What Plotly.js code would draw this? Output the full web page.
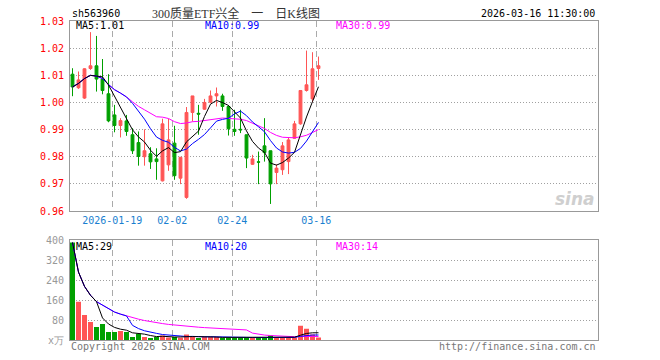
<!DOCTYPE html>
<html><head><meta charset="utf-8">
<script src="https://cdn.plot.ly/plotly-3.0.1.min.js"></script>
<style>html,body{margin:0;padding:0;background:#fff}#chart{width:660px;height:360px}</style>
</head><body><div id="chart"></div>
<script>
const dates = ['2026-01-08','2026-01-09','2026-01-12','2026-01-13','2026-01-14','2026-01-15','2026-01-16',
  '2026-01-19','2026-01-20','2026-01-21','2026-01-22','2026-01-23','2026-01-26','2026-01-27','2026-01-28',
  '2026-01-29','2026-01-30','2026-02-02','2026-02-03','2026-02-04','2026-02-05','2026-02-06','2026-02-09',
  '2026-02-10','2026-02-11','2026-02-12','2026-02-13','2026-02-24','2026-02-25','2026-02-26','2026-02-27',
  '2026-03-02','2026-03-03','2026-03-04','2026-03-05','2026-03-06','2026-03-09','2026-03-10','2026-03-11',
  '2026-03-12','2026-03-13','2026-03-16'];
const openP  = [1.0104,1.0054,1.0016,1.0125,1.0135,1.0086,1.0032,0.9954,0.9915,0.9932,0.9881,0.9852,0.9800,0.9811,
  0.9792,0.9711,0.9770,0.9850,0.9721,0.9650,0.9963,0.9960,0.9975,1.0001,1.0024,1.0024,0.9985,0.9901,0.9901,0.9881,
  0.9772,0.9781,0.9840,0.9822,0.9742,0.9752,0.9782,0.9868,0.9921,1.0044,1.0013,1.0125];
const highP  = [1.0126,1.0114,1.0126,1.0259,1.0245,1.0160,1.0104,0.9991,0.9942,0.9954,0.9905,0.9893,0.9901,0.9835,
  0.9831,0.9940,0.9940,0.9914,0.9798,0.9983,1.0024,0.9991,1.0013,1.0044,1.0055,1.0032,0.9990,0.9973,0.9973,0.9881,
  0.9807,0.9819,0.9942,0.9822,0.9772,0.9854,0.9872,0.9932,1.0044,1.0191,1.0185,1.0169];
const lowP   = [1.0023,1.0050,1.0013,1.0120,1.0040,1.0030,0.9927,0.9890,0.9871,0.9877,0.9810,0.9767,0.9767,0.9755,
  0.9715,0.9709,0.9748,0.9715,0.9699,0.9645,0.9930,0.9881,0.9973,0.9997,0.9985,0.9969,0.9878,0.9877,0.9887,0.9758,
  0.9770,0.9699,0.9782,0.9626,0.9699,0.9733,0.9736,0.9866,0.9918,1.0040,1.0001,1.0083];
const closeP = [1.0057,1.0083,1.0124,1.0135,1.0086,1.0044,0.9932,0.9915,0.9933,0.9893,0.9822,0.9801,0.9822,0.9781,
  0.9782,0.9921,0.9862,0.9730,0.9798,0.9963,1.0024,0.9957,1.0000,1.0024,1.0032,0.9985,0.9903,0.9893,0.9899,0.9795,
  0.9792,0.9780,0.9815,0.9700,0.9758,0.9840,0.9862,0.9921,1.0044,1.0065,1.0124,1.0135];
const volume = [390,153,100,72,52,64,32,32,36,32,12,25,12,8,12,18,10,12,9,22,16,8,12,12,12,9,9,9,9,9,
  9,9,9,18,10,9,9,11,57,45,22,10];
const xTickDates  = ['2026-01-19','2026-02-02','2026-02-24','2026-03-16'];
const xTickLabels = ['2026-01-19','02-02','02-24','03-16'];
const priceTicks = [0.96,0.97,0.98,0.99,1.00,1.01,1.02,1.03];
const volTicks = [0,80,160,240,320,400];
const volTickLabels = ['x万','80','160','240','320','400'];
const stockCode = 'sh563960';
const chartTitle = '300质量ETF兴全\u3000一\u3000日K线图';
const stamp = '2026-03-16 11:30:00';

const RED = '#ff5555', GREEN = '#00a000';
const MONO = 'DejaVu Sans Mono, monospace';
const W = 660, H = 360, L = 70, R = 598, T = 21, B = 340;
const px = x => (x - L) / (R - L);
const py = y => (B - y) / (B - T);

function ma(arr, n) {
  return arr.map((_, i) => {
    const s = Math.max(0, i - n + 1); let t = 0;
    for (let j = s; j <= i; j++) t += arr[j];
    return t / (i - s + 1);
  });
}
const xs = dates.map((d, i) => i);
const pm5 = ma(closeP, 5), pm10 = ma(closeP, 10), pm30 = ma(closeP, 30);
const vm5 = ma(volume, 5), vm10 = ma(volume, 10), vm30 = ma(volume, 30);
const volColors = closeP.map((c, i) => c >= openP[i] ? RED : GREEN);
const gridX = xTickDates.map(d => dates.indexOf(d) - 0.37);
const last = a => a[a.length - 1];

const traces = [
  {type: 'candlestick', x: xs, open: openP, high: highP, low: lowP, close: closeP,
   xaxis: 'x', yaxis: 'y', hoverinfo: 'skip', whiskerwidth: 0,
   increasing: {line: {color: RED, width: 1}, fillcolor: RED},
   decreasing: {line: {color: GREEN, width: 1}, fillcolor: GREEN}},
  {type: 'scatter', mode: 'lines', x: xs, y: pm30, line: {color: '#ff00ff', width: 1}, xaxis: 'x', yaxis: 'y', hoverinfo: 'skip'},
  {type: 'scatter', mode: 'lines', x: xs, y: pm10, line: {color: '#0000ff', width: 1}, xaxis: 'x', yaxis: 'y', hoverinfo: 'skip'},
  {type: 'scatter', mode: 'lines', x: xs, y: pm5, line: {color: '#000000', width: 1}, xaxis: 'x', yaxis: 'y', hoverinfo: 'skip'},
  {type: 'bar', x: xs, y: volume, width: 0.83, marker: {color: volColors, line: {width: 0}}, xaxis: 'x2', yaxis: 'y2', hoverinfo: 'skip'},
  {type: 'scatter', mode: 'lines', x: xs, y: vm30, line: {color: '#ff00ff', width: 1}, xaxis: 'x2', yaxis: 'y2', hoverinfo: 'skip'},
  {type: 'scatter', mode: 'lines', x: xs, y: vm10, line: {color: '#0000ff', width: 1}, xaxis: 'x2', yaxis: 'y2', hoverinfo: 'skip'},
  {type: 'scatter', mode: 'lines', x: xs, y: vm5, line: {color: '#000000', width: 1}, xaxis: 'x2', yaxis: 'y2', hoverinfo: 'skip'}
];

const xRange = [-(72.5 - L) / 6, (R - 72.5) / 6];
const xBase = {range: xRange, showgrid: true, gridcolor: '#aaaaaa', griddash: '6px,4px', gridwidth: 1,
  showline: true, mirror: true, linecolor: '#999999', linewidth: 1, zeroline: false, ticks: '',
  tickvals: gridX, ticktext: xTickLabels, fixedrange: true, rangeslider: {visible: false}};
const yBase = {showgrid: true, gridcolor: '#a0a0a0', griddash: '1px,2px', gridwidth: 1,
  showline: true, mirror: true, linecolor: '#999999', linewidth: 1, zeroline: false, ticks: '',
  ticklabelstandoff: 3, fixedrange: true};

const ann = (text, x, y, color, xanchor, size, extra) => Object.assign({
  text, x: px(x), y: py(y), xref: 'paper', yref: 'paper', xanchor, yanchor: 'middle',
  showarrow: false, font: {family: MONO, size: size || 10, color}}, extra || {});

const layout = {
  width: W, height: H, margin: {l: L, r: W - R, t: T, b: H - B, pad: 0},
  paper_bgcolor: '#ffffff', plot_bgcolor: '#ffffff', showlegend: false, dragmode: false,
  xaxis: Object.assign({}, xBase, {anchor: 'y', domain: [0, 1],
    tickfont: {family: MONO, size: 10, color: '#1a7fd0'}}),
  xaxis2: Object.assign({}, xBase, {anchor: 'y2', domain: [0, 1], showticklabels: false}),
  yaxis: Object.assign({}, yBase, {domain: [(B - 211) / (B - T), 1], range: [0.96, 1.03],
    tickvals: priceTicks, ticktext: priceTicks.map(v => v.toFixed(2)),
    tickfont: {family: MONO, size: 10, color: '#ff0000'}}),
  yaxis2: Object.assign({}, yBase, {domain: [0, (B - 240) / (B - T)], range: [0, 400],
    tickvals: volTicks, ticktext: volTickLabels,
    tickfont: {family: MONO, size: 10, color: '#999999'}}),
  boxgap: 0.33,
  annotations: [
    ann(stockCode, 70, 13, '#000000', 'left', 10),
    Object.assign(ann(chartTitle, 150, 13, '#333333', 'left', 12),
      {font: {family: 'Liberation Serif, Noto Sans CJK SC, serif', size: 12, color: '#333333'}}),
    ann(stamp, 597, 13, '#000000', 'right', 10),
    ann('MA5:' + last(pm5).toFixed(2), 74, 26, '#000000', 'left', 10),
    ann('MA10:' + last(pm10).toFixed(2), 203, 26, '#0000ff', 'left', 10),
    ann('MA30:' + last(pm30).toFixed(2), 334, 26, '#ff00ff', 'left', 10),
    ann('MA5:' + Math.round(last(vm5)), 74, 246, '#000000', 'left', 10),
    ann('MA10:' + Math.round(last(vm10)), 203, 246, '#0000ff', 'left', 10),
    ann('MA30:' + Math.round(last(vm30)), 334, 246, '#ff00ff', 'left', 10),
    ann('Copyright 2026 SINA.COM', 69, 346, '#777777', 'left', 10),
    ann('http://finance.sina.com.cn', 598, 346, '#777777', 'right', 10),
    Object.assign(ann('sina', 597, 199, '#cccccc', 'right', 17),
      {font: {family: 'DejaVu Sans, sans-serif', size: 17, color: '#cfcfcf', style: 'italic', weight: 'bold'}})
  ]
};

Plotly.newPlot('chart', traces, layout, {staticPlot: true, displayModeBar: false});
</script>
</body></html>
